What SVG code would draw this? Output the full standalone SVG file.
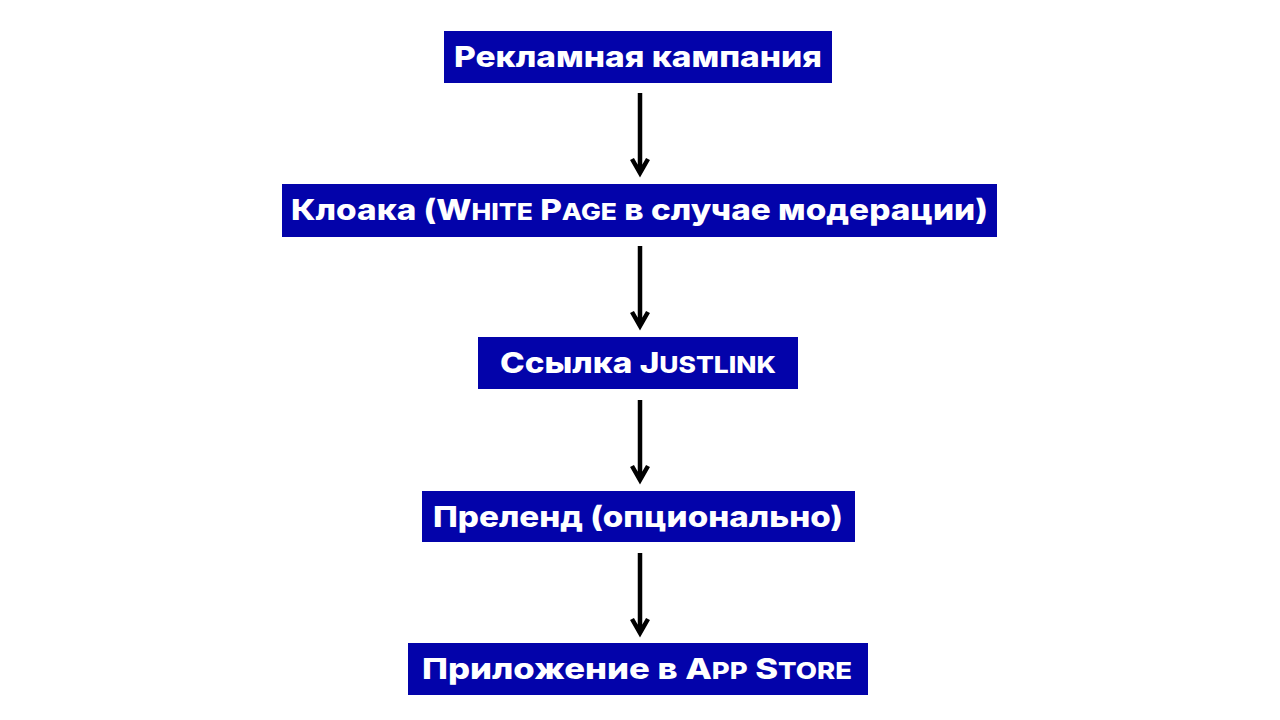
<svg xmlns="http://www.w3.org/2000/svg" width="1280" height="720" viewBox="0 0 1280 720">
<style>
.box{fill:#0303aa;}
.lbl{font-family:Inter,"Open Sans","Liberation Sans",sans-serif;font-weight:800;font-size:29px;fill:#ffffff;}
.sc{font-size:23px;}
.con{fill:none;stroke:#000000;stroke-width:4.5;}
</style>
<rect width="1280" height="720" fill="#ffffff"/>
<g id="connectors">
<path class="con" d="M640,93 V172 M632,159 L640,173 L648,159"/>
<path class="con" d="M640,246 V325 M632,312 L640,326 L648,312"/>
<path class="con" d="M640,400 V479 M632,466 L640,480 L648,466"/>
<path class="con" d="M640,553 V632 M632,619 L640,633 L648,619"/>
</g>
<g id="node1">
<rect class="box" x="444" y="31" width="388" height="52"/>
<text class="lbl" x="454" y="67" textLength="368" lengthAdjust="spacingAndGlyphs">Рекламная кампания</text>
</g>
<g id="node2">
<rect class="box" x="282" y="184" width="715" height="53"/>
<text class="lbl" x="291" y="220" textLength="697" lengthAdjust="spacingAndGlyphs">Клоака (W<tspan class="sc">HITE</tspan> P<tspan class="sc">AGE</tspan> в случае модерации)</text>
</g>
<g id="node3">
<rect class="box" x="478" y="337" width="320" height="52"/>
<text class="lbl" x="500" y="373" textLength="276" lengthAdjust="spacingAndGlyphs">Ссылка J<tspan class="sc">USTLINK</tspan></text>
</g>
<g id="node4">
<rect class="box" x="422" y="491" width="433" height="51"/>
<text class="lbl" x="433" y="527" textLength="410" lengthAdjust="spacingAndGlyphs">Преленд (опционально)</text>
</g>
<g id="node5">
<rect class="box" x="408" y="643" width="460" height="52"/>
<text class="lbl" x="422" y="679" textLength="430" lengthAdjust="spacingAndGlyphs">Приложение в A<tspan class="sc">PP</tspan> S<tspan class="sc">TORE</tspan></text>
</g>
</svg>
